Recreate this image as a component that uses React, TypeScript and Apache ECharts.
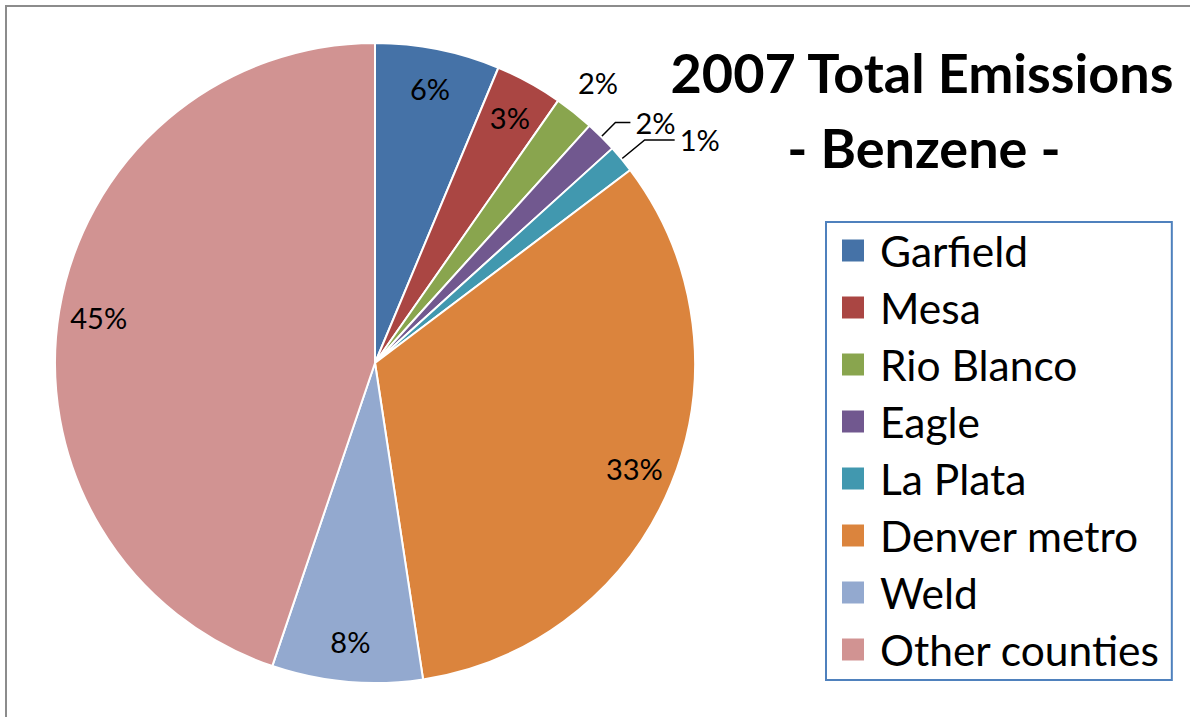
import React, { useEffect, useRef } from "react";
import * as echarts from "echarts";

// ---- data ----
const categories = [
  "Garfield",
  "Mesa",
  "Rio Blanco",
  "Eagle",
  "La Plata",
  "Denver metro",
  "Weld",
  "Other counties",
];
const shares = [6.3, 3.4, 2.0, 1.6, 1.4, 32.9, 7.6, 44.8];
const sliceColors = [
  "#4572A7",
  "#AA4643",
  "#89A54E",
  "#71588F",
  "#4198AF",
  "#DB843D",
  "#93A9CF",
  "#D19392",
];
const innerLabeled = ["Garfield", "Mesa", "Denver metro", "Weld", "Other counties"];
const outerFreeLabeled = ["Rio Blanco"];
const leaderLabeled = ["Eagle", "La Plata"];
const titleLines = ["2007 Total Emissions", "- Benzene -"];

const FONT = "Lato, 'Open Sans', sans-serif";
const pct = (p: any) => Math.round(p.percent) + "%";

export default function App() {
  const ref = useRef<HTMLDivElement>(null);

  useEffect(() => {
    if (!ref.current) return;
    const chart = echarts.init(ref.current, undefined, { renderer: "svg" });
    const cx = 375;
    const cy = 363;
    const R = 320;

    const leaderStyle: Record<string, { len: [number, number]; pad: number[] }> = {
      Eagle: { len: [20, 15], pad: [0, 0, 20, 0] },
      "La Plata": { len: [30, 30], pad: [0, 0, 10, 0] },
    };

    const mainData = categories.map((name, i) => {
      const item: any = {
        name,
        value: shares[i],
        itemStyle: { color: sliceColors[i] },
      };
      if (leaderLabeled.includes(name)) {
        const s = leaderStyle[name];
        item.label = { show: true, position: "outside", padding: s.pad };
        item.labelLine = { show: true, length: s.len[0], length2: s.len[1] };
      }
      return item;
    });

    const overlayData = (labeled: string[]) =>
      categories.map((name, i) => ({
        name,
        value: shares[i],
        label: { show: labeled.includes(name) },
      }));

    const labelText = {
      fontFamily: FONT,
      fontSize: 29,
      color: "#000",
    };

    const overlayBase = {
      type: "pie",
      center: [cx, cy],
      startAngle: 90,
      clockwise: true,
      silent: true,
      emphasis: { disabled: true },
      itemStyle: { color: "rgba(0,0,0,0)", borderWidth: 0 },
      labelLine: { show: false },
      avoidLabelOverlap: false,
    };

    const titleStyle = {
      textAlign: "center",
      textVerticalAlign: "middle",
      fontFamily: FONT,
      fontWeight: "bold",
      fontSize: 54,
      fill: "#000",
    };

    chart.setOption({
      animation: false,
      backgroundColor: "#fff",
      legend: {
        data: categories,
        orient: "vertical",
        left: 826,
        top: 222,
        itemWidth: 22,
        itemHeight: 22,
        itemGap: 14,
        icon: "rect",
        selectedMode: false,
        padding: [7, 12, 9, 16],
        borderColor: "#4F81BD",
        borderWidth: 2,
        itemStyle: { borderWidth: 0 },
        textStyle: {
          fontFamily: FONT,
          fontSize: 42.5,
          lineHeight: 43,
          color: "#000",
          padding: [0, 0, 0, 11],
        },
      },
      graphic: [
        {
          type: "rect",
          silent: true,
          shape: { x: 6, y: 6, width: 1400, height: 900 },
          style: { fill: "none", stroke: "#8C8C8C", lineWidth: 2 },
        },
        {
          type: "text",
          x: 922,
          y: 72,
          style: { ...titleStyle, text: titleLines[0] },
        },
        {
          type: "text",
          x: 924,
          y: 147,
          style: { ...titleStyle, text: titleLines[1] },
        },
      ],
      series: [
        {
          type: "pie",
          name: "main",
          center: [cx, cy],
          radius: R,
          startAngle: 90,
          clockwise: true,
          avoidLabelOverlap: false,
          emphasis: { disabled: true },
          itemStyle: { borderColor: "#fff", borderWidth: 2 },
          label: { show: false, formatter: pct, ...labelText },
          labelLine: { show: false, lineStyle: { color: "#000", width: 1.5 } },
          data: mainData,
        },
        {
          ...overlayBase,
          name: "inner labels",
          radius: [234, R],
          label: { show: true, position: "inside", formatter: pct, ...labelText },
          data: overlayData(innerLabeled),
        },
        {
          ...overlayBase,
          name: "outer labels",
          radius: [R, 390],
          label: { show: true, position: "inside", formatter: pct, ...labelText },
          data: overlayData(outerFreeLabeled),
        },
      ],
    });

    return () => chart.dispose();
  }, []);

  return (
    <div
      ref={ref}
      style={{ position: "fixed", left: 0, top: 0, width: 1190, height: 717 }}
    />
  );
}
